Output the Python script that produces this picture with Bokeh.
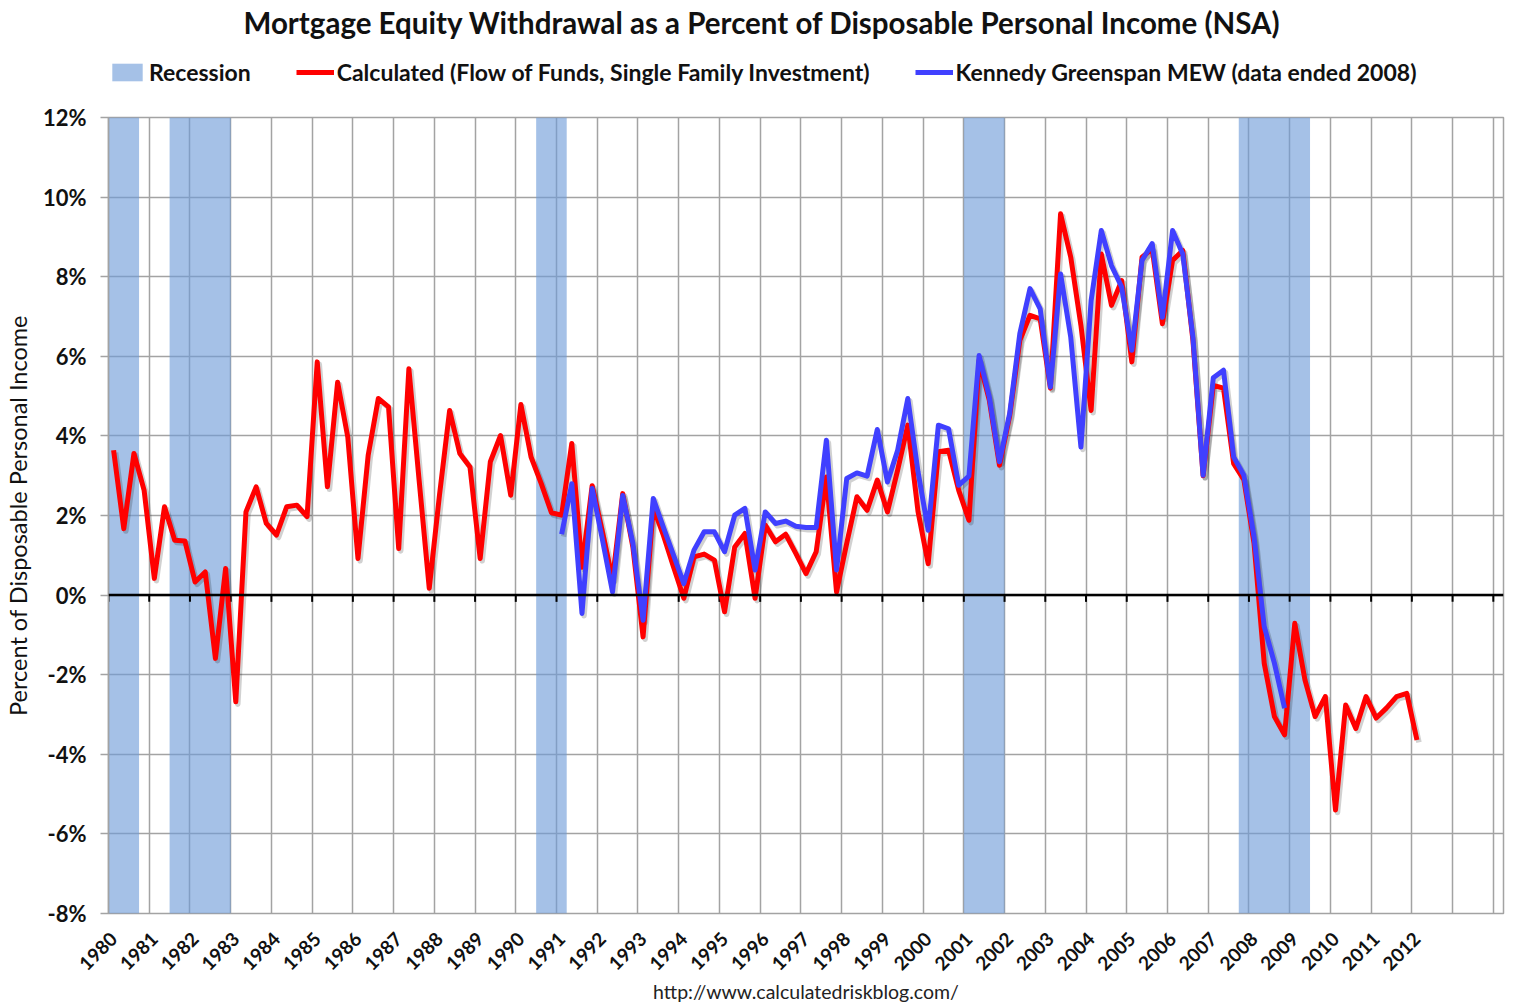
from bokeh.plotting import figure
from bokeh.layouts import column
from bokeh.models import (FixedTicker, Legend, LegendItem, Span, Range1d, Label,
                          CustomJSTickFormatter)
from bokeh.embed import file_html
from bokeh.resources import INLINE

# ---------------- data ----------------
START_YEAR = 1980          # first quarter of the series is 1980 Q1
KG_START_INDEX = 44        # Kennedy-Greenspan series starts 1991 Q1

calculated = [
    3.64, 1.67, 3.56, 2.63, 0.42, 2.22, 1.38, 1.36, 0.33, 0.58,
    -1.59, 0.67, -2.68, 2.09, 2.72, 1.80, 1.51, 2.22, 2.26, 1.97,
    5.86, 2.72, 5.35, 3.97, 0.92, 3.51, 4.94, 4.73, 1.17, 5.69,
    2.90, 0.17, 2.50, 4.64, 3.56, 3.22, 0.92, 3.35, 4.01, 2.51,
    4.79, 3.47, 2.80, 2.07, 2.01, 3.81, 0.70, 2.75, 1.60, 0.40,
    2.55, 1.20, -1.05, 2.20, 1.50, 0.70, -0.08, 0.96, 1.03, 0.88,
    -0.42, 1.21, 1.55, -0.08, 1.76, 1.34, 1.53, 1.05, 0.54, 1.09,
    2.97, 0.08, 1.30, 2.47, 2.13, 2.89, 2.09, 3.14, 4.27, 2.10,
    0.79, 3.60, 3.64, 2.63, 1.88, 5.90, 4.90, 3.26, 4.50, 6.40,
    7.03, 6.94, 5.20, 9.58, 8.49, 6.78, 4.64, 8.57, 7.28, 7.90,
    5.86, 8.49, 8.70, 6.82, 8.41, 8.66, 6.40, 3.00, 5.27, 5.20,
    3.30, 2.90, 1.30, -1.71, -3.05, -3.51, -0.71, -2.13, -3.05, -2.55,
    -5.40, -2.76, -3.35, -2.55, -3.09, -2.84, -2.55, -2.47, -3.64,
]

kennedy_greenspan = [
    1.53, 2.80, -0.46, 2.68, 1.40, 0.08, 2.50, 1.30, -0.63, 2.43,
    1.70, 1.00, 0.29, 1.13, 1.59, 1.59, 1.09, 2.01, 2.18, 0.63,
    2.09, 1.80, 1.86, 1.73, 1.70, 1.70, 3.89, 0.63, 2.93, 3.07,
    2.99, 4.16, 2.84, 3.64, 4.94, 3.10, 1.63, 4.27, 4.18, 2.76,
    2.99, 6.02, 4.98, 3.35, 4.56, 6.57, 7.70, 7.19, 5.23, 8.07,
    6.48, 3.72, 7.40, 9.16, 8.28, 7.74, 6.15, 8.41, 8.83, 6.98,
    9.16, 8.57, 6.48, 3.01, 5.46, 5.65, 3.47, 3.01, 1.46, -0.79,
    -1.71, -2.84,
]

recession_start = [1980.0, 1981.5, 1990.5, 2001.0, 2007.75]
recession_end = [1980.75, 1983.0, 1991.25, 2002.0, 2009.5]

year_labels = list(range(1980, 2013))
grid_years = list(range(1980, 2015))
y_ticks = [-8, -6, -4, -2, 0, 2, 4, 6, 8, 10, 12]

TITLE = "Mortgage Equity Withdrawal as a Percent of Disposable Personal Income (NSA)"
LBL_REC = "Recession"
LBL_CALC = "Calculated (Flow of Funds, Single Family Investment)"
LBL_KG = "Kennedy Greenspan MEW (data ended 2008)"
Y_TITLE = "Percent of Disposable Personal Income"
SOURCE = "http://www.calculatedriskblog.com/"

# quarter centres on a year scale
x_calc = [START_YEAR + i / 4 + 0.125 for i in range(len(calculated))]
x_kg = [START_YEAR + (KG_START_INDEX + i) / 4 + 0.125 for i in range(len(kennedy_greenspan))]

FONT = "Lato"
GRID = "#A3A3A3"
REC_COLOR, REC_ALPHA = "#6E9BD8", 0.62
RED, BLUE, LW = "#FF0000", "#4040FF", 5

W = 1532
HEADER_H = 100
MAIN_H = 905

# ---------------- header: title + legend ----------------
# (its frame is aligned with the chart frame by the column layout)
hdr = figure(width=W, height=HEADER_H, x_range=Range1d(0, 1), y_range=Range1d(0, 1),
             x_axis_location=None, y_axis_location=None,
             output_backend="svg", toolbar_location=None, min_border=0)
hdr.grid.visible = False
hdr.outline_line_color = None

hdr.add_layout(Label(x=135, y=HEADER_H - 22, x_units="screen", y_units="screen",
                     text=TITLE, text_font=FONT, text_font_size="29.5px",
                     text_font_style="bold", text_color="#111111",
                     text_align="left", text_baseline="middle"))

# legend proxies: same styling, data lies outside the header's view
h_rec = hdr.quad(left=recession_start, right=recession_end, bottom=-8, top=12,
                 fill_color=REC_COLOR, fill_alpha=REC_ALPHA, line_color=None)
h_red = hdr.line(x=x_calc, y=calculated, line_color=RED, line_width=LW)
h_blue = hdr.line(x=x_kg, y=kennedy_greenspan, line_color=BLUE, line_width=LW)

legend = Legend(items=[LegendItem(label=LBL_REC, renderers=[h_rec]),
                       LegendItem(label=LBL_CALC, renderers=[h_red]),
                       LegendItem(label=LBL_KG, renderers=[h_blue])],
                orientation="horizontal", location=(0, 14),
                spacing=45, label_standoff=3, glyph_width=38, glyph_height=22,
                label_text_font=FONT, label_text_font_style="bold",
                label_text_font_size="23px", label_text_color="#111111",
                padding=0, margin=0, border_line_color=None,
                background_fill_alpha=0)
hdr.add_layout(legend, "center")

# ---------------- main chart ----------------
p = figure(width=W, height=MAIN_H,
           x_range=Range1d(1980, 2014.25), y_range=Range1d(-8, 12),
           output_backend="svg", toolbar_location=None,
           min_border_left=108, min_border_right=29,
           min_border_bottom=92, min_border_top=17)

p.quad(left=recession_start, right=recession_end, bottom=-8, top=12,
       fill_color=REC_COLOR, fill_alpha=REC_ALPHA, line_color=None)

# zero line + its ticks
p.add_layout(Span(location=0, dimension="width", line_color="black", line_width=2.5))
p.segment(x0=grid_years, y0=[0] * len(grid_years), x1=grid_years,
          y1=[-0.17] * len(grid_years), line_color="black", line_width=2)

# soft shadows
p.line([x + 0.05 for x in x_calc], [v - 0.06 for v in calculated],
       line_color="black", line_alpha=0.18, line_width=LW + 0.5, line_join="round")
p.line([x + 0.05 for x in x_kg], [v - 0.06 for v in kennedy_greenspan],
       line_color="black", line_alpha=0.18, line_width=LW + 0.5, line_join="round")

p.line(x_calc, calculated, line_color=RED, line_width=LW, line_join="round")
p.line(x_kg, kennedy_greenspan, line_color=BLUE, line_width=LW, line_join="round")

# axes
p.xaxis.ticker = FixedTicker(ticks=[y + 0.125 for y in year_labels])
p.xaxis.formatter = CustomJSTickFormatter(code="return String(Math.floor(tick));")
p.xaxis.major_label_orientation = 0.785398
p.xaxis.major_label_text_font = FONT
p.xaxis.major_label_text_font_style = "bold"
p.xaxis.major_label_text_font_size = "19px"
p.xaxis.major_label_text_color = "#111111"
p.xaxis.major_label_standoff = 16
p.xaxis.major_tick_line_color = None
p.xaxis.minor_tick_line_color = None
p.xaxis.axis_line_color = None
p.xaxis.axis_label = SOURCE
p.xaxis.axis_label_text_font = FONT
p.xaxis.axis_label_text_font_style = "normal"
p.xaxis.axis_label_text_font_size = "19.5px"
p.xaxis.axis_label_text_color = "#222222"
p.xaxis.axis_label_standoff = 0

p.yaxis.ticker = FixedTicker(ticks=y_ticks)
p.yaxis.formatter = CustomJSTickFormatter(code="return tick + '%';")
p.yaxis.major_label_text_font = FONT
p.yaxis.major_label_text_font_style = "bold"
p.yaxis.major_label_text_font_size = "22px"
p.yaxis.major_label_text_color = "#111111"
p.yaxis.major_label_standoff = 14
p.yaxis.major_tick_out = 8
p.yaxis.major_tick_in = 0
p.yaxis.major_tick_line_color = GRID
p.yaxis.major_tick_line_width = 1.5
p.yaxis.minor_tick_line_color = None
p.yaxis.axis_line_color = GRID
p.yaxis.axis_line_width = 1.5
p.yaxis.axis_label = Y_TITLE
p.yaxis.axis_label_text_font = FONT
p.yaxis.axis_label_text_font_style = "normal"
p.yaxis.axis_label_text_font_size = "23.5px"
p.yaxis.axis_label_text_color = "#111111"
p.yaxis.axis_label_standoff = 8

p.xgrid.ticker = FixedTicker(ticks=grid_years)
p.ygrid.ticker = FixedTicker(ticks=y_ticks)
p.xgrid.grid_line_color = GRID
p.ygrid.grid_line_color = GRID
p.xgrid.grid_line_width = 1.5
p.ygrid.grid_line_width = 1.5
p.outline_line_color = GRID
p.outline_line_width = 1.5

page = column(hdr, p, spacing=0)
open("out.html", "w").write(file_html(page, INLINE))
